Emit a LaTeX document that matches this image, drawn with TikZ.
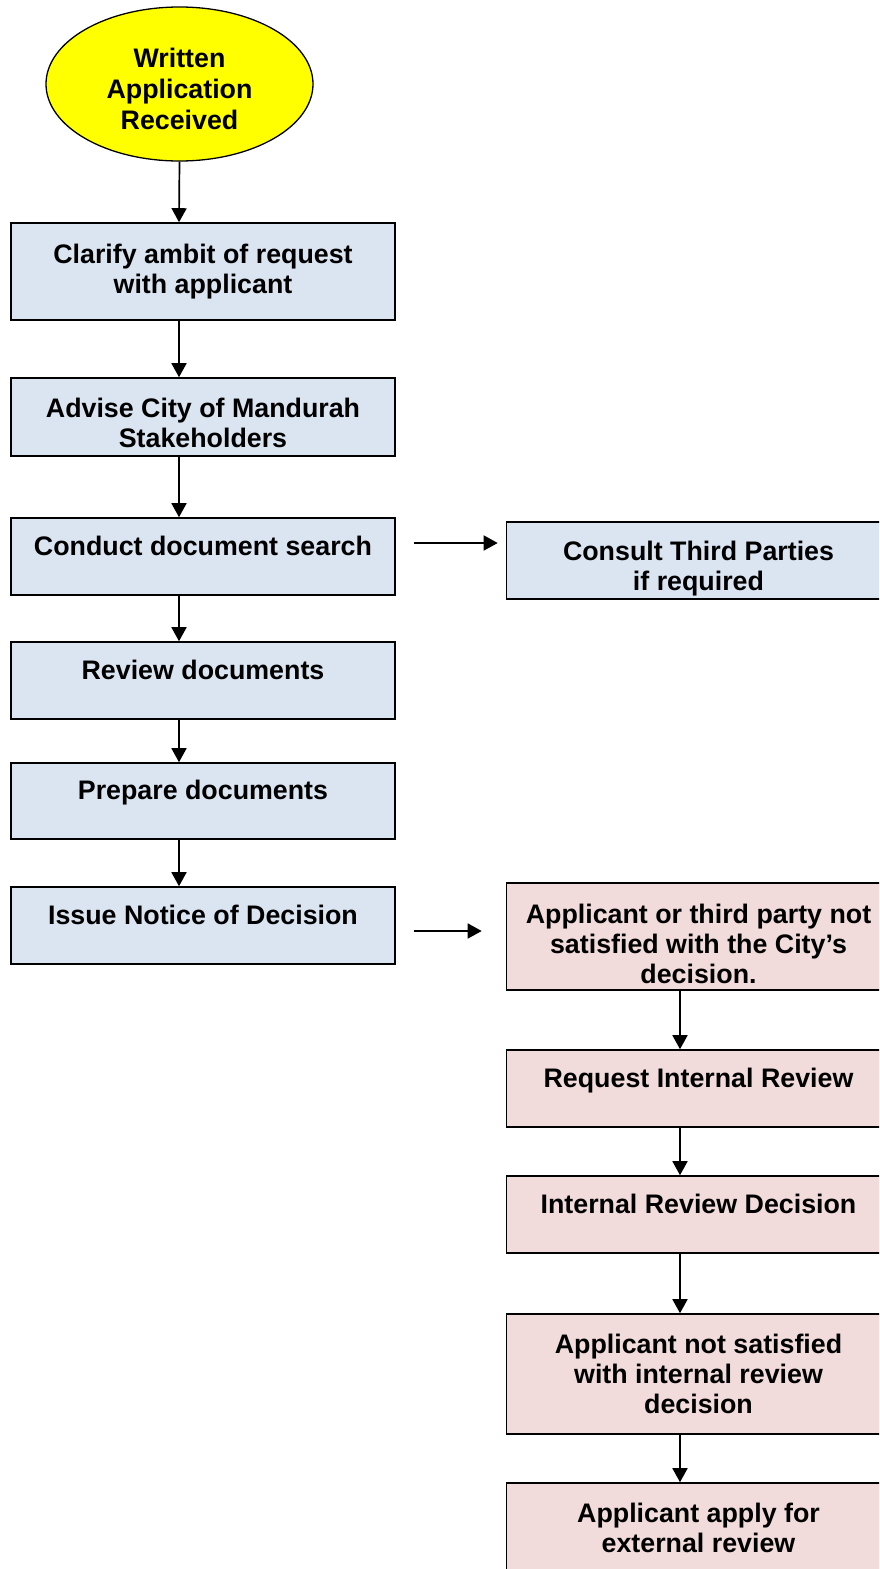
\documentclass[tikz,border=0pt]{standalone}
\usepackage{fontspec}
\setmainfont{Liberation Sans}
\usepackage{xcolor}
\usetikzlibrary{arrows.meta,shapes.geometric}
\definecolor{boxblue}{HTML}{DBE5F1}
\definecolor{boxpink}{HTML}{F2DBDB}
\definecolor{startyellow}{HTML}{FFFF00}

\begin{document}
\begin{tikzpicture}[x=1pt,y=-1pt,
		box/.style={draw=black,line width=1.6pt,rectangle,minimum width=384pt,inner sep=0pt,align=center,font=\fontsize{26.8}{30}\selectfont\bfseries},
		bluebox/.style={box,fill=boxblue},
		pinkbox/.style={box,fill=boxpink},
		flow/.style={line width=1.7pt,-{Triangle[width=15pt,length=14pt]}}]
			
			% page frame
			\useasboundingbox (0,0) rectangle (879,1569);
			\clip (0,0) rectangle (879,1569);
			
			% start
			\node[ellipse,draw=black,line width=1.3pt,fill=startyellow,minimum width=267pt,minimum height=154pt,inner sep=0pt,align=center,font=\fontsize{26.8}{31}\selectfont\bfseries] (start) at (179.5,84) {\rule{0pt}{28.5pt}Written\\Application\\Received};
			
			% main column
			\node[bluebox,minimum height=97pt] (clarify) at (203,271.5) {Clarify ambit of request\\with applicant};
			\node[bluebox,minimum height=78pt] (advise) at (203,417) {\rule{0pt}{32pt}Advise City of Mandurah\\Stakeholders};
			\node[bluebox,minimum height=77pt] (search) at (203,556.5) {Conduct document search\\[-8pt]\mbox{}};
			\node[bluebox,minimum height=77pt] (review) at (203,680.5) {Review documents\\[-8pt]\mbox{}};
			\node[bluebox,minimum height=76pt] (prepare) at (203,801) {Prepare documents\\[-8pt]\mbox{}};
			\node[bluebox,minimum height=77pt] (notice) at (203,925.5) {Issue Notice of Decision\\[-8pt]\mbox{}};
			
			% side boxes (cut by the right edge)
			\node[bluebox,minimum height=77pt] (consult) at (698.5,560.5) {\rule{0pt}{35pt}Consult Third Parties\\if required};
			\node[pinkbox,minimum height=107pt] (unsat) at (698.5,936.5) {\rule{0pt}{34pt}Applicant or third party not\\satisfied with the City’s\\decision.};
			\node[pinkbox,minimum height=77pt] (request) at (698.5,1088.5) {Request Internal Review\\[-8pt]\mbox{}};
			\node[pinkbox,minimum height=77pt] (decision) at (698.5,1214.5) {Internal Review Decision\\[-8pt]\mbox{}};
			\node[pinkbox,minimum height=120pt] (notsat) at (698.5,1374) {Applicant not satisfied\\with internal review\\decision};
			\node[pinkbox,minimum height=90pt] (external) at (698.5,1528) {Applicant apply for\\external review};
			
			% arrows down the main column
			\draw[flow] (start.south) -- ([xshift=-24pt]clarify.north);
			\draw[flow] ([xshift=-24pt]clarify.south) -- ([xshift=-24pt]advise.north);
			\draw[flow] ([xshift=-24pt]advise.south) -- ([xshift=-24pt]search.north);
			\draw[flow] ([xshift=-24pt]search.south) -- ([xshift=-24pt]review.north);
			\draw[flow] ([xshift=-24pt]review.south) -- ([xshift=-24pt]prepare.north);
			\draw[flow] ([xshift=-24pt]prepare.south) -- ([xshift=-24pt]notice.north);
			
			% arrows across
			\draw[flow,shorten <=18pt,shorten >=8pt] ([yshift=13.5pt]search.east) -- ([yshift=13.5pt]search.east -| consult.west);
			\draw[flow,shorten <=18pt,shorten >=24pt] ([yshift=-5.5pt]notice.east) -- ([yshift=-5.5pt]notice.east -| unsat.west);
			
			% arrows down the review column
			\draw[flow] ([xshift=-18.5pt]unsat.south) -- ([xshift=-18.5pt]request.north);
			\draw[flow] ([xshift=-18.5pt]request.south) -- ([xshift=-18.5pt]decision.north);
			\draw[flow] ([xshift=-18.5pt]decision.south) -- ([xshift=-18.5pt]notsat.north);
			\draw[flow] ([xshift=-18.5pt]notsat.south) -- ([xshift=-18.5pt]external.north);
			
		\end{tikzpicture}
\end{document}
